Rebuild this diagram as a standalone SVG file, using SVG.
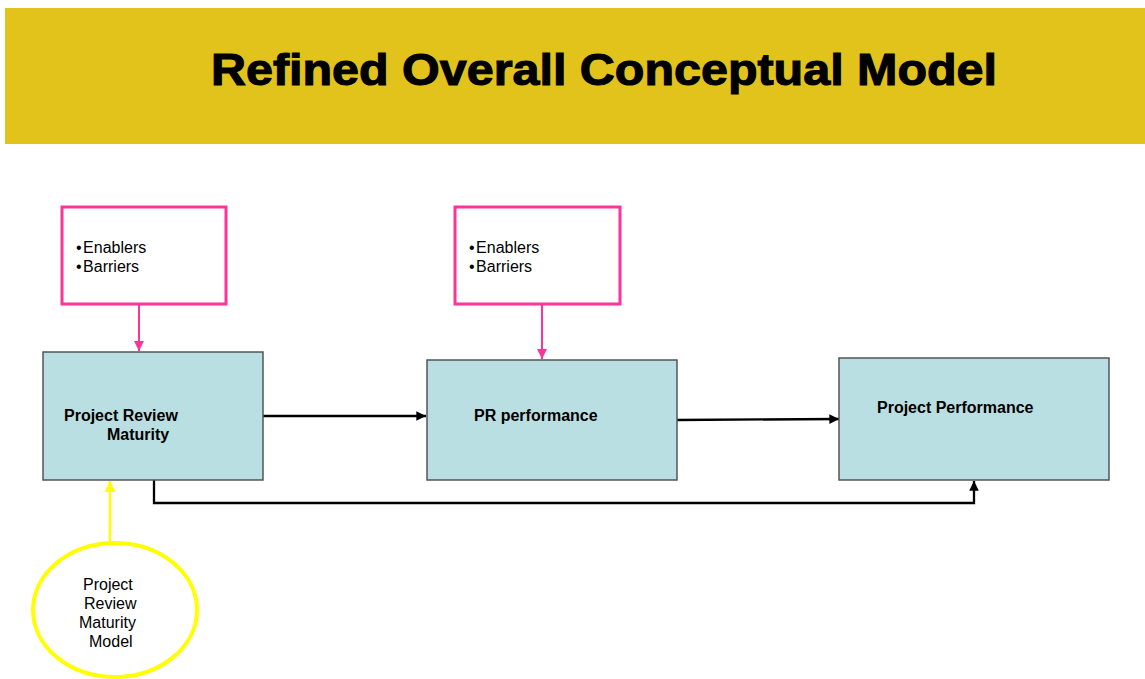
<svg xmlns="http://www.w3.org/2000/svg" width="1145" height="679" viewBox="0 0 1145 679">
  <style>
    .factor { fill: #ffffff; stroke: #ff3399; stroke-width: 3; }
    .stage { fill: #badfe2; stroke: #555555; stroke-width: 1.5; }
    .lbl { font-family: "Liberation Sans", Arial, sans-serif; font-size: 16px; fill: #000000; }
    .bold { font-weight: bold; }
    .pink { stroke: #ff3399; stroke-width: 2; fill: none; }
    .black { stroke: #000000; stroke-width: 2.3; fill: none; }
    .yellow { stroke: #ffff00; stroke-width: 2.5; fill: none; }
  </style>
  <defs>
    <marker id="head-black" viewBox="0 0 10 10" refX="10" refY="5" markerWidth="4.6" markerHeight="4.2" markerUnits="strokeWidth" orient="auto">
      <path d="M0,0 L10,5 L0,10 z" fill="#000000"/>
    </marker>
    <marker id="head-pink" viewBox="0 0 10 10" refX="10" refY="5" markerWidth="5" markerHeight="5.5" markerUnits="strokeWidth" orient="auto">
      <path d="M0,0 L10,5 L0,10 z" fill="#ff3399"/>
    </marker>
    <marker id="head-yellow" viewBox="0 0 10 10" refX="10" refY="5" markerWidth="4.4" markerHeight="4.4" markerUnits="strokeWidth" orient="auto">
      <path d="M0,0 L10,5 L0,10 z" fill="#ffff00"/>
    </marker>
  </defs>

  <rect width="1145" height="679" fill="#ffffff"/>

  <!-- title banner -->
  <g id="banner">
    <rect x="5" y="8" width="1140" height="136" fill="#e1c31b"/>
    <text x="211" y="85" font-family="'Liberation Sans', Arial, sans-serif" font-size="44" font-weight="bold" fill="#000000" stroke="#000000" stroke-width="1.1" textLength="786" lengthAdjust="spacingAndGlyphs">Refined Overall Conceptual Model</text>
  </g>

  <!-- connectors -->
  <g id="connectors">
    <line class="pink" x1="139" y1="305" x2="139" y2="351" marker-end="url(#head-pink)"/>
    <line class="pink" x1="542" y1="305" x2="542" y2="359" marker-end="url(#head-pink)"/>
    <line class="black" x1="263" y1="416" x2="426" y2="416" marker-end="url(#head-black)"/>
    <line class="black" x1="677" y1="420" x2="839" y2="419" marker-end="url(#head-black)"/>
    <polyline class="black" points="154,480 154,503 974,503 974,481" marker-end="url(#head-black)"/>
    <line class="yellow" x1="110" y1="542" x2="110" y2="481" marker-end="url(#head-yellow)"/>
  </g>

  <!-- influencing factors -->
  <g id="factors-maturity">
    <rect class="factor" x="62" y="207" width="164" height="97"/>
    <text class="lbl" x="76" y="253">•<tspan dx="1.5">Enablers</tspan></text>
    <text class="lbl" x="76" y="272">•<tspan dx="1.5">Barriers</tspan></text>
  </g>
  <g id="factors-performance">
    <rect class="factor" x="455" y="207" width="165" height="97"/>
    <text class="lbl" x="469" y="253">•<tspan dx="1.5">Enablers</tspan></text>
    <text class="lbl" x="469" y="272">•<tspan dx="1.5">Barriers</tspan></text>
  </g>

  <!-- main stages -->
  <g id="stage-maturity">
    <rect class="stage" x="43" y="352" width="220" height="128"/>
    <text class="lbl bold" x="64" y="421">Project Review</text>
    <text class="lbl bold" x="107" y="440">Maturity</text>
  </g>
  <g id="stage-pr-performance">
    <rect class="stage" x="427" y="360" width="250" height="120"/>
    <text class="lbl bold" x="474" y="421">PR performance</text>
  </g>
  <g id="stage-project-performance">
    <rect class="stage" x="839" y="358" width="270" height="122"/>
    <text class="lbl bold" x="877" y="413">Project Performance</text>
  </g>

  <!-- maturity model -->
  <g id="maturity-model">
    <ellipse cx="115" cy="610" rx="82" ry="67" fill="#ffffff" stroke="#ffff00" stroke-width="4"/>
    <text class="lbl" font-size="15.5" x="83" y="590">Project</text>
    <text class="lbl" font-size="15.5" x="84" y="609">Review</text>
    <text class="lbl" font-size="15.5" x="79" y="628">Maturity</text>
    <text class="lbl" font-size="15.5" x="89" y="647">Model</text>
  </g>
</svg>
